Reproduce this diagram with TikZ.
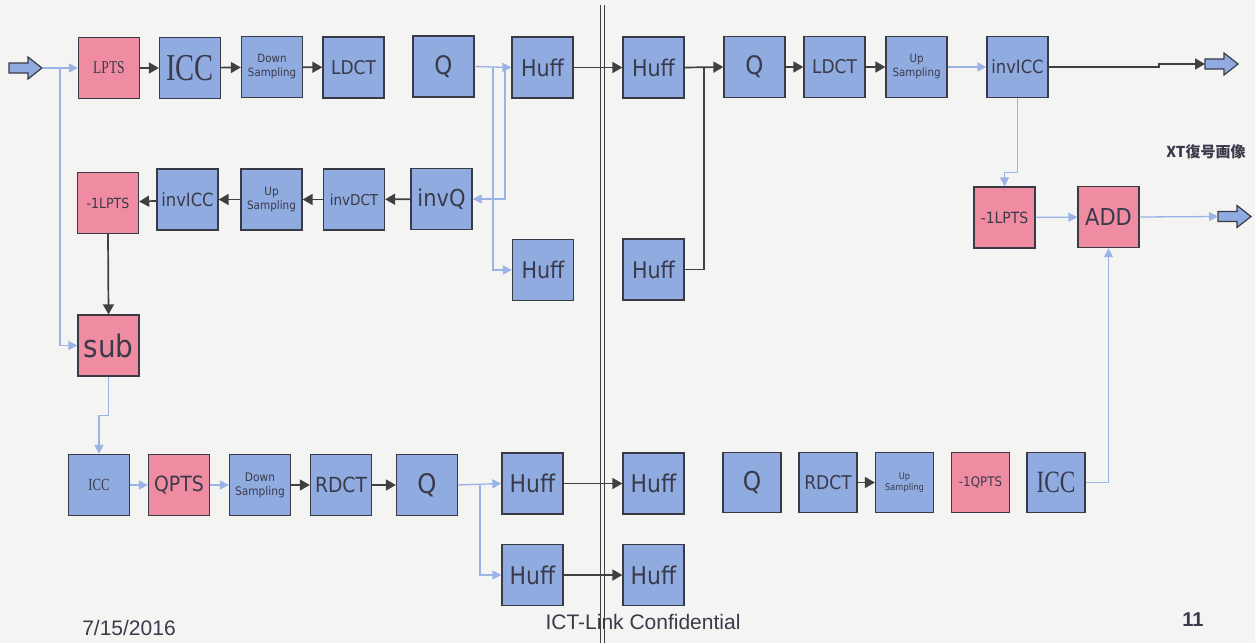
\documentclass[tikz,border=0pt]{standalone}
\usepackage{fontspec}
\usetikzlibrary{arrows.meta}
\newfontfamily\bx[FakeStretch=0.9]{DejaVu Sans}
\newfontfamily\sr[FakeStretch=0.75]{Liberation Serif}
\newfontfamily\ar{Liberation Sans}
\newfontfamily\cjk{Noto Sans CJK JP}
\newcommand\fsz[1]{\fontsize{#1}{#1}\selectfont}
\definecolor{bg}{HTML}{F4F4F2}
\definecolor{boxblue}{HTML}{8FABE0}
\definecolor{boxpink}{HTML}{EF8CA2}
\definecolor{edge}{HTML}{3A3A46}
\definecolor{ink}{HTML}{3A3A4A}
\definecolor{lineblue}{HTML}{9BB3E6}
\definecolor{darkline}{HTML}{404040}
\begin{document}
\begin{tikzpicture}[x=1pt,y=-1pt,
  blk/.style={draw=edge, line width=1.3pt, minimum width=61pt, minimum height=61pt,
              inner sep=0pt, text=ink, font=\bx, align=center},
  bb/.style={blk, fill=boxblue},
  pb/.style={blk, fill=boxpink},
  sm/.style={minimum width=58pt, minimum height=60pt},
  lt/.style={draw=lineblue, line width=1.3pt},
  lta/.style={lt, -{Triangle[length=9pt,width=9pt]}},
  dk/.style={draw=darkline, line width=1.7pt},
  dka/.style={dk, -{Triangle[length=10pt,width=11pt]}},
  blockarrow/.style={draw=edge, fill=boxblue, line width=1.2pt, line join=miter}
]
% page
\fill[bg] (0,0) rectangle (1255,643);
\useasboundingbox (0,0) rectangle (1255,643);

% double separator line
\draw[darkline, line width=1.5pt] (600.5,5) -- (600.5,643);
\draw[darkline, line width=1.5pt] (604.5,5) -- (604.5,643);

% ---- block arrows for input and outputs (tail at the given point)
\newcommand\blockarr[3]{%
  \draw[blockarrow] (#1,#2-5) -- ++(19,0) -- ++(0,-6) -- ++(14,11)
     -- ++(-14,11) -- ++(0,-6) -- ++(-19,0) -- cycle;
  \coordinate (#3 tail) at (#1,#2);
  \coordinate (#3 tip) at (#1+33,#2);}
\blockarr{9}{68}{in}
\blockarr{1205}{64}{outT}
\blockarr{1218}{216.5}{outM}

% ---- top row: encoder
\node[pb, font=\sr\fsz{18}] (lpts) at (109,68) {LPTS};
\node[bb, font=\sr\fsz{38}] (icc1) at (190,68) {ICC};
\node[bb, font=\bx\fontsize{11.4}{14}\selectfont] (ds1) at (272,67) {Down\\Sampling};
\node[bb, font=\bx\fsz{18.9}] (ldct1) at (353.5,67.5) {LDCT};
\node[bb, font=\bx\fsz{25.5}] (q1) at (443.5,66.5) {Q};
\node[bb, font=\bx\fsz{23}] (hf1) at (542.5,67.5) {Huff};

% ---- top row: decoder
\node[bb, font=\bx\fsz{23}] (hf2) at (653.5,67.5) {Huff};
\node[bb, font=\bx\fsz{25.5}] (q2) at (754.5,67) {Q};
\node[bb, font=\bx\fsz{18.9}] (ldct2) at (834.5,67) {LDCT};
\node[bb, font=\bx\fontsize{11.4}{14}\selectfont] (us1) at (916.5,67) {Up\\Sampling};
\node[bb, font=\bx\fsz{18.2}] (iicc1) at (1017.5,67) {invICC};

% ---- second row: local decoding loop
\node[pb, font=\bx\fsz{14}] (ilpts) at (108,203) {-1LPTS};
\node[bb, font=\bx\fsz{18.2}] (iicc2) at (187.5,199.5) {invICC};
\node[bb, font=\bx\fontsize{11.6}{14}\selectfont] (us2) at (271.5,199.5) {Up\\Sampling};
\node[bb, font=\bx\fsz{15}] (idct) at (354,199.5) {invDCT};
\node[bb, font=\bx\fsz{23.3}] (iq) at (441.5,199) {invQ};

\node[bb, font=\bx\fsz{23}] (hf3) at (543,270) {Huff};
\node[bb, font=\bx\fsz{23}] (hf4) at (653.5,269.5) {Huff};
\node[pb, font=\bx\fsz{31}] (sub) at (108.5,345.5) {sub};

% ---- right side: reconstruction
\node[pb, font=\bx\fsz{15.5}] (ilpts2) at (1004.5,217.5) {-1LPTS};
\node[pb, font=\bx\fsz{23.3}] (add) at (1108.5,217) {ADD};
\node[font=\cjk\bfseries\fsz{15}, text=ink] (lbl) at (1206,152) {XT復号画像};

% ---- bottom row: encoder
\node[bb, font=\sr\fsz{17}] (icc2) at (99,485) {ICC};
\node[pb, font=\bx\fsz{21}] (qpts) at (179,485) {QPTS};
\node[bb, font=\bx\fontsize{11.8}{14}\selectfont] (ds2) at (260,485) {Down\\Sampling};
\node[bb, font=\bx\fsz{20.8}] (rdct1) at (341,485) {RDCT};
\node[bb, font=\bx\fsz{27}] (q3) at (427,485) {Q};
\node[bb, font=\bx\fsz{24.4}] (hf5) at (532.5,483.5) {Huff};
\node[bb, font=\bx\fsz{24.4}] (hf6) at (532.5,575) {Huff};

% ---- bottom row: decoder
\node[bb, font=\bx\fsz{24.4}] (hf7) at (653.5,483.5) {Huff};
\node[bb, font=\bx\fsz{24.4}] (hf8) at (653.5,575) {Huff};
\node[bb, sm, font=\bx\fsz{26}] (q4) at (752,482.5) {Q};
\node[bb, sm, font=\bx\fsz{19}] (rdct2) at (828,482.5) {RDCT};
\node[bb, sm, font=\bx\fontsize{9.2}{11.5}\selectfont] (us3) at (904.5,482.5) {Up\\Sampling};
\node[pb, sm, font=\bx\fsz{13.2}] (iqpts) at (980.5,482.5) {-1QPTS};
\node[bb, sm, font=\sr\fsz{31}] (icc3) at (1056,482.5) {ICC};

% ---- branch points
\coordinate (jin) at (60,68);
\coordinate (jqa) at (493,66.5);
\coordinate (jqb) at (505,66.5);
\coordinate (jhf) at (704,67.5);
\coordinate (jq3) at (480,485);

% ---- connectors: top row
\draw[lta] (in tip) -- (lpts.west);
\draw[lta] (jin) |- (sub.west);
\draw[dka] (lpts) -- (icc1);
\draw[dka] (icc1) -- (ds1);
\draw[dka] (ds1) -- (ldct1);
\draw[lta] (q1.east) -- (hf1.west);
\draw[lta] (jqa) |- (hf3.west);
\draw[lta] (jqb) |- (iq.east);
\draw[dka] (hf1.east) -- (hf2.west);
\draw[dka] (hf2.east) -- (q2.west);
\draw[dk] (hf4.east) -| (jhf);
\draw[dka] (q2) -- (ldct2);
\draw[dka] (ldct2) -- (us1);
\draw[lta] (us1) -- (iicc1);
\draw[dka] (iicc1.east) -- ++(110,0) |- (outT tail);

% ---- connectors: local loop
\draw[dka] (iq) -- (idct);
\draw[dka] (idct) -- (us2);
\draw[dka] (us2) -- (iicc2);
\draw[dka] (iicc2) -- (ilpts);
\draw[dka] (ilpts.south) -- (sub.north);
\draw[lta] (sub.south) -- ++(0,39) -| (icc2.north);

% ---- connectors: bottom row
\draw[lta] (icc2) -- (qpts);
\draw[lta] (qpts) -- (ds2);
\draw[dka] (ds2) -- (rdct1);
\draw[dka] (rdct1) -- (q3);
\draw[lta] (q3.east) -- (hf5.west);
\draw[lta] (jq3) |- (hf6.west);
\draw[dka] (hf5.east) -- (hf7.west);
\draw[dka] (hf6.east) -- (hf8.west);
\draw[dka] (rdct2) -- (us3);

% ---- connectors: reconstruction
\draw[lta] (iicc1.south) -- ++(0,74) -| (ilpts2.north);
\draw[lta] (ilpts2) -- (add);
\draw[lta] (add.east) -- (outM tail);
\draw[lta] (icc3.east) -| (add.south);

% ---- footer
\node[font=\ar\fsz{21}, text=ink] (date) at (129,628) {7/15/2016};
\node[font=\ar\fsz{21}, text=ink] (conf) at (643,622) {ICT-Link Confidential};
\node[font=\ar\bfseries\fsz{20}, text=ink] (pg) at (1193,620) {11};
\end{tikzpicture}
\end{document}
